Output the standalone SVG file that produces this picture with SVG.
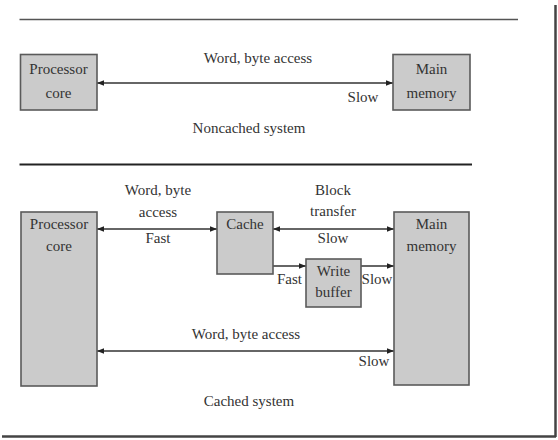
<svg xmlns="http://www.w3.org/2000/svg" width="558" height="440" viewBox="0 0 558 440">
<defs>
<style>
.box{fill:#cbcbcb;stroke:#5a5a5a;stroke-width:1.6}
.t{font-family:"Liberation Serif","Times New Roman",serif;font-size:15px;fill:#333;text-anchor:middle;dominant-baseline:central}
.ln{stroke:#333;stroke-width:1.3;fill:none}
.rule{stroke:#555;stroke-width:1.6}
</style>
<marker id="ah" viewBox="0 0 10 10" refX="10" refY="5" markerWidth="7" markerHeight="7" markerUnits="userSpaceOnUse" orient="auto-start-reverse">
<path d="M0,1 L10,5 L0,9 z" fill="#222"/>
</marker>
</defs>
<rect width="558" height="440" fill="#fff"/>
<g id="frame">
<line x1="555.5" y1="5" x2="555.5" y2="437" stroke="#444" stroke-width="2.5"/>
<line x1="2" y1="436.5" x2="556" y2="436.5" stroke="#444" stroke-width="2.5"/>
<line class="rule" x1="19.5" y1="19.5" x2="518" y2="19.5"/>
<line x1="19.5" y1="164.5" x2="472" y2="164.5" stroke="#222" stroke-width="2.2"/>
</g>
<g id="connectors">
<line class="ln" x1="97" y1="83" x2="393" y2="83" marker-start="url(#ah)" marker-end="url(#ah)"/>
<line class="ln" x1="97" y1="229" x2="217" y2="229" marker-start="url(#ah)" marker-end="url(#ah)"/>
<line class="ln" x1="273" y1="229" x2="394" y2="229" marker-start="url(#ah)" marker-end="url(#ah)"/>
<line class="ln" x1="273" y1="266" x2="306" y2="266" marker-end="url(#ah)"/>
<line class="ln" x1="361" y1="266" x2="394" y2="266" marker-end="url(#ah)"/>
<line class="ln" x1="97" y1="351" x2="394" y2="351" marker-start="url(#ah)" marker-end="url(#ah)"/>
</g>
<g id="labels">
<text class="t" x="258" y="58">Word, byte access</text>
<text class="t" x="363" y="97">Slow</text>
<text class="t" x="249" y="128">Noncached system</text>
<text class="t" x="158" y="190">Word, byte</text>
<text class="t" x="158" y="212">access</text>
<text class="t" x="158" y="238">Fast</text>
<text class="t" x="333" y="190">Block</text>
<text class="t" x="333" y="211">transfer</text>
<text class="t" x="333" y="238">Slow</text>
<text class="t" x="289.5" y="279">Fast</text>
<text class="t" x="377" y="279">Slow</text>
<text class="t" x="246" y="334">Word, byte access</text>
<text class="t" x="374" y="361">Slow</text>
<text class="t" x="249" y="401">Cached system</text>
</g>
<g id="proc1">
<rect class="box" x="20.5" y="54.5" width="76.5" height="55.5"/>
<text class="t" x="58.5" y="69">Processor</text>
<text class="t" x="58.5" y="93">core</text>
</g>
<g id="mem1">
<rect class="box" x="393" y="54.5" width="77" height="55.5"/>
<text class="t" x="431.5" y="69">Main</text>
<text class="t" x="431.5" y="93">memory</text>
</g>
<g id="proc2">
<rect class="box" x="21" y="212" width="76" height="174"/>
<text class="t" x="59" y="224">Processor</text>
<text class="t" x="59" y="246">core</text>
</g>
<g id="cache">
<rect class="box" x="217" y="212" width="56" height="62"/>
<text class="t" x="245" y="224">Cache</text>
</g>
<g id="wbuf">
<rect class="box" x="306" y="259" width="55" height="48"/>
<text class="t" x="333.5" y="271">Write</text>
<text class="t" x="333.5" y="292">buffer</text>
</g>
<g id="mem2">
<rect class="box" x="394" y="212" width="75" height="173"/>
<text class="t" x="431.5" y="224">Main</text>
<text class="t" x="431.5" y="246">memory</text>
</g>
</svg>
